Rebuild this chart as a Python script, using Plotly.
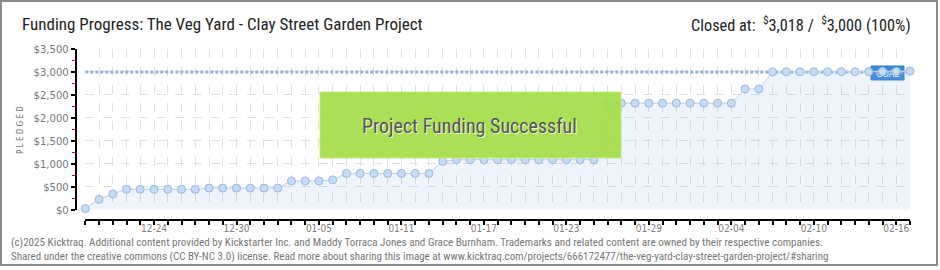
import plotly.graph_objects as go
import pandas as pd

# ---------------- data ----------------
dates = pd.date_range("2024-12-19", "2025-02-17", freq="D")
pledged = [25, 225, 345,
           445, 445, 445, 445, 445, 445,
           470, 470, 470, 470, 470, 470,
           625, 625, 625, 650,
           790, 790, 790, 790, 790, 790, 790,
           1050,
           1090, 1090, 1090, 1090, 1090, 1090, 1090, 1090, 1090, 1090, 1090,
           2285,
           2320, 2320, 2320, 2320, 2320, 2320, 2320, 2320, 2320,
           2630, 2630,
           3000, 3005, 3005, 3005, 3005, 3005, 3005, 3005, 3010, 3010, 3018]
goal = 3000
x_tick_labels = ["12-24", "12-30", "01-05", "01-11", "01-17", "01-23",
                 "01-29", "02-04", "02-10", "02-16"]
x_tick_dates = ["2024-12-24", "2024-12-30", "2025-01-05", "2025-01-11", "2025-01-17",
                "2025-01-23", "2025-01-29", "2025-02-04", "2025-02-10", "2025-02-16"]
y_ticks = [0, 500, 1000, 1500, 2000, 2500, 3000, 3500]
y_tick_labels = ["$0", "$500", "$1,000", "$1,500", "$2,000", "$2,500", "$3,000", "$3,500"]

title_text = "Funding Progress: The Veg Yard - Clay Street Garden Project"
closed_text = "Closed at:  <sup>$</sup>3,018 /  <sup>$</sup>3,000 (100%)"
footer1 = ("(c)2025 Kicktraq. Additional content provided by Kickstarter Inc. and Maddy Torraca Jones "
           "and Grace Burnham. Trademarks and related content are owned by their respective companies.")
footer2 = ("Shared under the creative commons (CC BY-NC 3.0) license. Read more about sharing this image at "
           "www.kicktraq.com/projects/666172477/the-veg-yard-clay-street-garden-project/#sharing")

# ---------------- layout geometry (pixels) ----------------
W, H = 940, 270
ML, MR, MT, MB = 76, 30, 49, 50
PW, PH = W - ML - MR, H - MT - MB


def px(x):
    return (x - ML) / PW


def py(y):
    return (H - MB - y) / PH


NARROW = "Liberation Sans Narrow, Roboto Condensed, Arial Narrow, Roboto, sans-serif"
TICKF = "DejaVu Sans Condensed, DejaVu Sans, sans-serif"

fig = go.Figure()

# fill under the data (translucent so grid and goal badge show through)
fig.add_trace(go.Scatter(x=dates, y=pledged, mode="lines", fill="tozeroy",
                         fillcolor="rgba(135,182,235,0.15)", line=dict(width=0, color="rgba(0,0,0,0)"),
                         hoverinfo="skip", cliponaxis=False, showlegend=False))
# goal line
fig.add_trace(go.Scatter(x=[dates[0], dates[-1]], y=[goal, goal], mode="lines",
                         line=dict(color="#8fb2dc", width=3, dash="3px,2px"),
                         hoverinfo="skip", showlegend=False))
# data line + markers
fig.add_trace(go.Scatter(x=dates, y=pledged, mode="lines+markers",
                         line=dict(color="#b7d1ef", width=1),
                         marker=dict(size=8, color="#c6dcf6", line=dict(color="#98b8de", width=1)),
                         cliponaxis=False, showlegend=False))

fig.update_layout(
    width=W, height=H,
    margin=dict(l=ML, r=MR, t=MT, b=MB),
    paper_bgcolor="white", plot_bgcolor="white",
    xaxis=dict(
        domain=[px(85.3), 1], anchor="free", position=0,
        range=[dates[0], dates[-1]], type="date",
        tickvals=x_tick_dates, ticktext=x_tick_labels,
        ticks="outside", ticklen=4, tickcolor="black", tickwidth=1.5,
        ticklabelstandoff=-5,
        showline=True, linecolor="black", linewidth=2,
        showgrid=True, gridcolor="#e0e0e0", griddash="dash", gridwidth=1,
        minor=dict(dtick=86400000, ticks="outside", ticklen=4, tickcolor="black",
                   tickwidth=1.5, showgrid=True, gridcolor="#e0e0e0", griddash="dash"),
        tickfont=dict(family=TICKF, size=10, color="#808080"),
        zeroline=False,
    ),
    yaxis=dict(
        domain=[py(209.7), 1], anchor="free", position=0,
        range=[0, 3500], tickvals=y_ticks, ticktext=y_tick_labels,
        ticks="outside", ticklen=4, tickcolor="black", tickwidth=1.5,
        showline=True, linecolor="black", linewidth=2,
        showgrid=True, gridcolor="#e0e0e0", griddash="dash", gridwidth=1,
        minor=dict(dtick=250, ticks="outside", ticklen=3, tickcolor="red", tickwidth=1),
        tickfont=dict(family=TICKF, size=11.2, color="#777777"),
        zeroline=False,
    ),
    shapes=[
        # GOAL label box (beneath markers)
        dict(type="rect", xref="paper", yref="paper", x0=px(871), x1=px(904), y0=py(80), y1=py(66),
             fillcolor="#4088d4", line=dict(color="#3a7cc6", width=1), layer="between",
             label=dict(text="GOAL", font=dict(family=TICKF, size=9, color="white"))),
        # success banner
        dict(type="rect", xref="paper", yref="paper", x0=px(320), x1=px(621), y0=py(158), y1=py(92),
             fillcolor="rgba(165,221,72,0.93)", line=dict(color="#c3ea8a", width=1), layer="above"),
        # border
        dict(type="rect", xref="paper", yref="paper", x0=px(1), x1=px(937), y0=py(265), y1=py(1),
             fillcolor="rgba(0,0,0,0)", line=dict(color="#8a8a8a", width=2), layer="above"),
    ],
    annotations=[
        dict(text=title_text, xref="paper", yref="paper", x=px(20), y=py(24),
             xanchor="left", yanchor="middle", showarrow=False,
             font=dict(family=NARROW, size=17, color="#222222")),
        dict(text=closed_text, xref="paper", yref="paper", x=px(913), y=py(24),
             xanchor="right", yanchor="middle", showarrow=False,
             font=dict(family=NARROW, size=16.3, color="#222222")),
        dict(text="Project Funding Successful", xref="paper", yref="paper", x=px(469), y=py(126),
             xanchor="center", yanchor="middle", showarrow=False,
             font=dict(family=NARROW, size=20, color="#555555", shadow="1px 1px 0px #f0f8e0")),
        dict(text="P L E D G E D", xref="paper", yref="paper", x=px(20), y=py(130),
             xanchor="center", yanchor="middle", showarrow=False, textangle=-90,
             font=dict(family=TICKF, size=8, color="#777777")),
        dict(text=footer1, xref="paper", yref="paper", x=px(9), y=py(242),
             xanchor="left", yanchor="middle", showarrow=False,
             font=dict(family=NARROW, size=11.1, color="#777777")),
        dict(text=footer2, xref="paper", yref="paper", x=px(9), y=py(256),
             xanchor="left", yanchor="middle", showarrow=False,
             font=dict(family=NARROW, size=11, color="#777777")),
    ],
)

fig.write_html("out.html")
